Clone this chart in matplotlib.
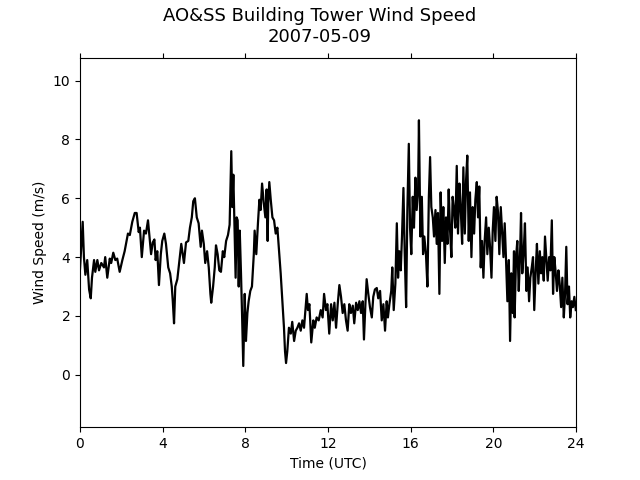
import matplotlib
matplotlib.use('Agg')
import matplotlib.pyplot as plt
import numpy as np

# 时间 (UTC 小时) 和风速 (m/s)
hours = [
    0.00, 0.13, 0.19, 0.26, 0.35, 0.44, 0.52, 0.58, 0.68, 0.74, 0.84, 0.92,
    1.03, 1.16, 1.22, 1.32, 1.44, 1.51, 1.61, 1.71, 1.80, 1.92, 2.05, 2.16,
    2.32, 2.41, 2.53, 2.65, 2.74, 2.84, 2.90, 2.99, 3.10, 3.19, 3.29, 3.35,
    3.44, 3.52, 3.60, 3.66, 3.74, 3.82, 3.91, 3.98, 4.08, 4.16, 4.27, 4.36,
    4.44, 4.49, 4.55, 4.61, 4.71, 4.81, 4.90, 4.97, 5.03, 5.13, 5.24, 5.32,
    5.41, 5.48, 5.56, 5.65, 5.74, 5.84, 5.90, 5.99, 6.06, 6.15, 6.23, 6.31,
    6.35, 6.44, 6.52, 6.58, 6.66, 6.74, 6.82, 6.91, 6.98, 7.07, 7.16, 7.24,
    7.32, 7.37, 7.42, 7.49, 7.53, 7.58, 7.63, 7.68, 7.73, 7.79, 7.84, 7.90,
    7.97, 8.03, 8.10, 8.16, 8.24, 8.32, 8.41, 8.45, 8.53, 8.61, 8.68, 8.74,
    8.81, 8.89, 8.97, 9.03, 9.08, 9.11, 9.16, 9.23, 9.31, 9.39, 9.47, 9.55,
    9.63, 9.71, 9.79, 9.87, 9.92, 9.97, 10.03, 10.11, 10.20, 10.27, 10.36, 10.44,
    10.52, 10.60, 10.68, 10.76, 10.84, 10.97, 11.03, 11.10, 11.19, 11.29, 11.36, 11.45,
    11.55, 11.65, 11.74, 11.81, 11.90, 11.97, 12.06, 12.15, 12.23, 12.31, 12.39, 12.47,
    12.55, 12.63, 12.71, 12.79, 12.87, 12.95, 13.03, 13.11, 13.20, 13.27, 13.36, 13.44,
    13.52, 13.60, 13.68, 13.74, 13.81, 13.87, 13.95, 14.03, 14.12, 14.19, 14.27, 14.36,
    14.43, 14.52, 14.60, 14.68, 14.76, 14.84, 14.90, 14.97, 15.06, 15.11, 15.18, 15.26,
    15.33, 15.39, 15.45, 15.52, 15.58, 15.65, 15.71, 15.78, 15.84, 15.91, 15.97, 16.03,
    16.10, 16.16, 16.23, 16.29, 16.36, 16.40, 16.47, 16.54, 16.60, 16.66, 16.74, 16.81,
    16.88, 16.94, 17.00, 17.07, 17.13, 17.20, 17.26, 17.32, 17.39, 17.45, 17.52, 17.58,
    17.65, 17.71, 17.78, 17.84, 17.90, 17.97, 18.03, 18.10, 18.16, 18.23, 18.29, 18.36,
    18.42, 18.49, 18.55, 18.62, 18.68, 18.74, 18.81, 18.87, 18.94, 19.00, 19.07, 19.13,
    19.20, 19.26, 19.32, 19.39, 19.45, 19.52, 19.58, 19.65, 19.71, 19.78, 19.84, 19.91,
    19.97, 20.03, 20.10, 20.16, 20.23, 20.29, 20.36, 20.42, 20.49, 20.55, 20.61, 20.68,
    20.75, 20.81, 20.87, 20.94, 21.00, 21.03, 21.10, 21.16, 21.23, 21.29, 21.34, 21.40,
    21.47, 21.53, 21.60, 21.66, 21.73, 21.79, 21.86, 21.92, 21.98, 22.05, 22.11, 22.18,
    22.25, 22.31, 22.37, 22.44, 22.50, 22.56, 22.63, 22.70, 22.76, 22.83, 22.89, 22.95,
    23.02, 23.08, 23.15, 23.21, 23.28, 23.34, 23.41, 23.47, 23.53, 23.59, 23.66, 23.72,
    23.79, 23.85, 23.92, 23.99,
]
speed = [
    3.6, 5.2, 4.0, 3.4, 3.9, 2.9, 2.6, 3.3, 3.9, 3.5, 3.9, 3.55,
    3.8, 3.65, 4.0, 3.3, 3.95, 3.8, 4.15, 3.9, 3.95, 3.5, 3.9, 4.2,
    4.8, 4.75, 5.2, 5.5, 5.5, 4.85, 5.0, 4.0, 4.9, 4.8, 5.25, 4.8,
    4.1, 4.5, 4.6, 3.9, 4.2, 3.05, 4.1, 4.55, 4.8, 4.45, 3.65, 3.45,
    3.0, 2.5, 1.75, 3.0, 3.25, 3.9, 4.45, 4.1, 3.8, 4.5, 4.55, 5.0,
    5.35, 5.9, 6.0, 5.35, 5.15, 4.35, 4.9, 4.45, 3.8, 4.2, 3.65, 2.75,
    2.45, 3.0, 3.65, 4.4, 4.1, 3.55, 3.5, 4.2, 4.0, 4.55, 4.75, 5.1,
    7.6, 5.7, 6.8, 4.55, 3.3, 5.35, 5.25, 3.0, 4.9, 3.45, 2.1, 0.3,
    2.75, 1.15, 2.1, 2.5, 2.85, 3.0, 4.1, 4.9, 4.1, 5.15, 5.95, 5.6,
    6.5, 5.85, 5.35, 6.3, 4.55, 5.85, 6.55, 5.95, 5.35, 5.25, 4.8, 5.0,
    4.2, 3.45, 2.5, 1.6, 0.8, 0.4, 0.8, 1.6, 1.4, 1.8, 1.15, 1.5,
    1.6, 1.75, 1.5, 1.85, 1.6, 2.75, 2.2, 2.4, 1.1, 1.85, 1.6, 1.95,
    1.85, 2.2, 1.95, 2.75, 2.2, 2.4, 1.4, 2.4, 1.85, 2.45, 1.6, 2.4,
    3.05, 2.65, 2.1, 2.4, 1.85, 1.5, 2.4, 2.1, 2.35, 1.75, 2.45, 2.2,
    2.5, 2.1, 2.5, 1.2, 2.4, 3.25, 2.75, 2.3, 1.95, 2.65, 2.9, 2.95,
    2.6, 2.85, 1.85, 2.4, 1.5, 2.5, 1.95, 2.4, 2.85, 3.65, 2.2, 3.1,
    5.15, 3.3, 4.2, 3.55, 4.7, 6.35, 4.2, 2.3, 5.6, 7.85, 5.0, 4.1,
    6.05, 5.0, 6.7, 5.6, 6.3, 8.65, 4.7, 6.05, 4.1, 4.7, 4.1, 3.0,
    6.05, 7.4, 5.7, 5.35, 4.7, 5.6, 4.45, 5.5, 2.75, 6.2, 4.55, 5.7,
    3.8, 5.35, 4.45, 6.3, 5.0, 4.0, 6.05, 5.6, 5.0, 7.1, 4.8, 6.5,
    5.7, 4.45, 7.05, 4.8, 6.6, 7.45, 4.55, 6.2, 4.0, 5.7, 4.8, 5.95,
    6.55, 5.35, 6.4, 3.65, 4.55, 3.3, 4.55, 5.35, 4.1, 5.0, 4.35, 3.3,
    4.9, 5.7, 4.55, 6.05, 5.5, 4.1, 5.7, 4.9, 4.0, 5.15, 4.0, 2.5,
    3.9, 1.15, 3.45, 2.1, 4.2, 1.95, 4.0, 4.55, 2.85, 4.0, 5.5, 3.45,
    4.2, 5.15, 2.85, 3.65, 2.5, 3.3, 3.65, 4.0, 2.2, 3.55, 4.45, 3.1,
    4.2, 3.45, 4.0, 3.2, 4.7, 4.0, 3.2, 4.0, 3.55, 5.25, 2.75, 4.0,
    3.45, 2.85, 3.55, 3.1, 2.3, 3.3, 1.95, 2.75, 4.35, 2.4, 3.0, 1.95,
    2.5, 2.3, 2.65, 2.2,
]

fig = plt.figure(figsize=(6.4, 4.8), dpi=100)
ax = fig.add_subplot(111)

ax.plot(hours, speed, color='k', linewidth=1.6)

ax.set_xlim(0, 24)
ax.set_ylim(-1.78, 10.78)
ax.set_xticks(np.arange(0, 25, 4))
ax.set_yticks(np.arange(0, 11, 2))
ax.tick_params(top=True)

ax.set_xlabel('Time (UTC)')
ax.set_ylabel('Wind Speed (m/s)')
# 标题居中于整张图
fig.suptitle('AO&SS Building Tower Wind Speed\n2007-05-09', fontsize=13, y=0.985)

fig.savefig('out.png', dpi=100)
